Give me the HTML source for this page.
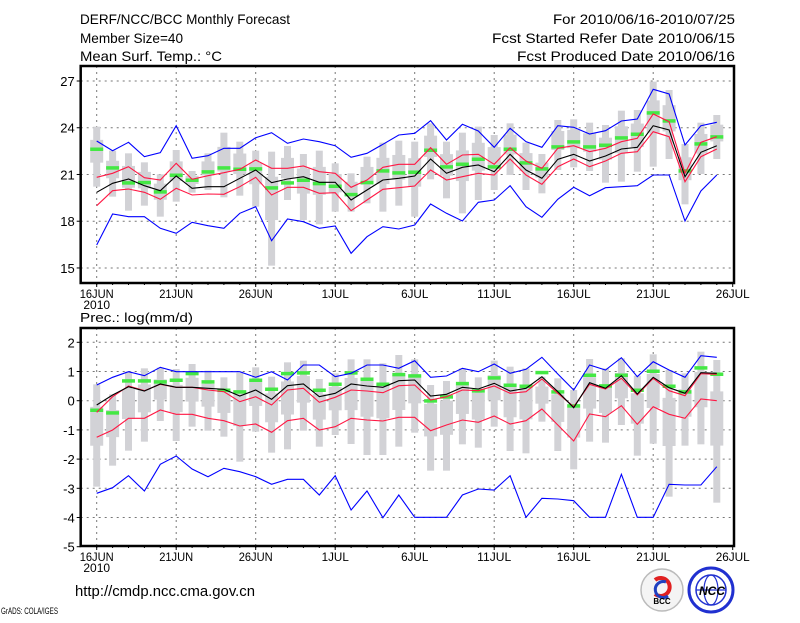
<!DOCTYPE html>
<html><head><meta charset="utf-8"><style>
html,body{margin:0;padding:0;background:#fff;}
svg text{font-family:"Liberation Sans",sans-serif;fill:#000;}
</style></head><body>
<svg id="s" width="800" height="618" xmlns="http://www.w3.org/2000/svg">
<text x="80" y="24" font-size="14" textLength="210" lengthAdjust="spacingAndGlyphs">DERF/NCC/BCC Monthly Forecast</text>
<text x="80" y="43" font-size="14" textLength="103" lengthAdjust="spacingAndGlyphs">Member Size=40</text>
<text x="80" y="61" font-size="14" textLength="142" lengthAdjust="spacingAndGlyphs">Mean Surf. Temp.: °C</text>
<text x="735" y="24" font-size="14" text-anchor="end" textLength="182" lengthAdjust="spacingAndGlyphs">For 2010/06/16-2010/07/25</text>
<text x="735" y="43" font-size="14" text-anchor="end" textLength="243" lengthAdjust="spacingAndGlyphs">Fcst Started Refer Date 2010/06/15</text>
<text x="735" y="61" font-size="14" text-anchor="end" textLength="218" lengthAdjust="spacingAndGlyphs">Fcst Produced Date 2010/06/16</text>
<text x="80" y="322" font-size="13" textLength="113" lengthAdjust="spacingAndGlyphs">Prec.: log(mm/d)</text>
<text x="75" y="596" font-size="15" textLength="180" lengthAdjust="spacingAndGlyphs">http://cmdp.ncc.cma.gov.cn</text>
<text x="1" y="614" font-size="9" textLength="57" lengthAdjust="spacingAndGlyphs">GrADS: COLA/IGES</text>
<g>
<circle cx="662" cy="590" r="21" fill="#f4f4f4" stroke="#bbb" stroke-width="1.5"/>
<path d="M655 580 a9 9 0 1 1 0 14" fill="none" stroke="#e02020" stroke-width="4"/>
<path d="M668 596 a8 8 0 1 1 -2 -14" fill="none" stroke="#2040c0" stroke-width="3"/>
<text x="662" y="604" font-size="8" text-anchor="middle" font-weight="bold" fill="#333">BCC</text>
<circle cx="711" cy="590" r="22" fill="#fff" stroke="#2030d0" stroke-width="3"/>
<circle cx="711" cy="590" r="15" fill="none" stroke="#2030d0" stroke-width="1.5"/>
<ellipse cx="711" cy="590" rx="7" ry="15" fill="none" stroke="#2030d0" stroke-width="1.2"/>
<line x1="696" y1="590" x2="726" y2="590" stroke="#2030d0" stroke-width="1.2"/>
<text x="712" y="595" font-size="12" text-anchor="middle" font-style="italic" font-weight="bold" fill="#2030d0">NCC</text>
</g>
</svg>
<script>
var S=document.getElementById('s'),NS='http://www.w3.org/2000/svg';
function el(t,a,txt){var e=document.createElementNS(NS,t);for(var k in a)e.setAttribute(k,a[k]);if(txt!=null)e.textContent=txt;S.appendChild(e);return e;}
function X(i){return 96.7+15.9*i;}
var dates=['16JUN','21JUN','26JUN','1JUL','6JUL','11JUL','16JUL','21JUL','26JUL'];
function panel(o){
 var L=80.7,R=734,T=o.top,B=o.bot;
 // grid
 o.ylabs.forEach(function(v){var y=o.vy(v);
  if(y>T+1&&y<B-1)el('line',{x1:L,x2:R,y1:y,y2:y,stroke:'#777','stroke-width':1,'stroke-dasharray':'2,4'});
  el('line',{x1:L-4,x2:L,y1:y,y2:y,stroke:'#000','stroke-width':1});
  el('text',{x:L-6,y:y+5,'font-size':13,'text-anchor':'end'},v);});
 for(var k=0;k<9;k++){var x=X(5*k);
  if(k<8)el('line',{x1:x,x2:x,y1:T,y2:B,stroke:'#777','stroke-width':1,'stroke-dasharray':'2,4'});
  el('line',{x1:x,x2:x,y1:B,y2:B+4,stroke:'#000'});
  el('text',{x:x,y:B+15,'font-size':12,'text-anchor':'middle',textLength:dates[k].length*6.8,lengthAdjust:'spacingAndGlyphs'},dates[k]);}
 el('text',{x:X(0),y:B+26,'font-size':12,'text-anchor':'middle'},'2010');
 for(var i=0;i<40;i++)el('line',{x1:X(i),x2:X(i),y1:B,y2:B+2,stroke:'#000'});
 var f=function(z){return o.base+z/3;};
 // bars
 o.gray.forEach(function(g,i){var t=f(g[0]),b=f(g[1]),r=b-t,x=X(i);
  el('rect',{x:x-3.5,y:t,width:7,height:r,fill:'#d2d2d6'});
  el('rect',{x:x-6.5,y:t+0.22*r,width:13,height:0.38*r,fill:'#d2d2d6'});});
 o.green.forEach(function(g,i){el('rect',{x:X(i)-6.5,y:f(g)-1.5,width:13,height:3.5,fill:'#44e844'});});
 [[o.lb,'#0000ff'],[o.ub,'#0000ff'],[o.lr,'#ff1844'],[o.ur,'#ff1844'],[o.bk,'#000']].forEach(function(s){
  el('polyline',{points:s[0].map(function(v,i){return X(i).toFixed(1)+','+f(v).toFixed(1);}).join(' '),fill:'none',stroke:s[1],'stroke-width':1.1});});
 el('rect',{x:L,y:T,width:R-L,height:B-T,fill:'none',stroke:'#000','stroke-width':2.5});
}
panel({top:66,bot:283,base:60,vy:function(v){return 81+(27-v)*15.58;},ylabs:[27,24,21,18,15],
ub:[243,272,247,290,278,197,295,287,265,265,233,218,250,237,245,257,292,280,253,225,220,182,240,193,213,262,205,245,262,197,202,222,212,183,177,88,102,255,197,187],
ur:[352,340,320,353,360,310,358,347,338,328,300,325,325,318,335,340,382,360,322,313,313,263,313,285,283,313,263,303,325,265,257,275,265,245,235,162,185,340,247,230],
bk:[397,370,357,377,392,348,385,380,380,355,330,368,357,350,367,367,420,390,360,355,348,297,340,322,315,335,283,330,355,298,283,303,288,267,262,197,210,350,277,257],
lr:[437,392,387,397,418,385,405,402,403,380,352,405,382,382,400,398,452,420,388,383,378,330,360,350,340,345,297,345,373,320,297,320,303,280,275,215,230,365,290,267],
lb:[555,462,470,470,505,520,487,497,505,460,440,542,477,485,505,498,580,530,500,507,495,432,460,483,427,420,377,440,472,418,382,407,383,380,377,345,345,483,393,345],
green:[267,323,368,367,395,345,360,335,323,327,326,383,368,360,370,378,403,367,332,338,336,270,320,312,297,320,267,308,326,260,245,260,255,233,222,158,182,332,251,230],
gray:[[200,380],[272,410],[280,452],[307,437],[343,470],[270,425],[333,398],[280,390],[218,412],[245,407],[272,440],[275,617],[258,420],[282,480],[272,493],[310,455],[340,455],[290,430],[248,455],[242,437],[245,470],[190,358],[245,415],[218,460],[200,420],[225,390],[190,345],[248,390],[282,400],[180,330],[178,322],[188,333],[195,368],[152,365],[150,335],[65,320],[90,297],[252,433],[188,342],[165,297]]});
panel({top:328,bot:546,base:325,vy:function(v){return 342.3+(2-v)*29.2;},ylabs:[2,1,0,-1,-2,-3,-4,-5],
ub:[180,157,140,152,127,140,140,140,140,140,157,140,165,120,120,155,145,120,120,130,107,157,153,130,140,117,145,133,97,147,195,120,135,98,155,110,135,157,92,97],
ur:[262,215,183,197,178,187,187,195,200,230,215,240,195,190,232,217,195,198,203,182,180,225,215,195,197,183,205,200,162,205,245,178,192,160,210,160,197,212,146,148],
bk:[240,210,185,198,177,187,187,190,193,213,195,223,182,177,215,205,177,183,187,167,165,213,208,187,192,175,198,190,155,200,248,173,190,152,207,157,188,205,143,145],
lr:[337,315,280,280,255,268,268,280,287,303,297,322,287,280,315,305,280,285,288,277,277,317,300,285,292,273,297,287,252,300,348,267,275,242,298,245,268,280,222,227],
lb:[505,488,452,498,418,393,432,455,430,440,455,478,463,463,510,452,555,498,578,510,577,577,577,510,492,495,452,577,520,522,527,577,577,448,577,577,478,480,480,425],
green:[255,263,167,167,170,165,145,170,195,200,165,192,145,143,195,177,143,162,177,148,152,227,215,175,197,158,180,183,142,200,242,150,182,150,195,138,183,200,128,147],
gray:[[178,485],[208,422],[140,377],[130,350],[128,288],[132,348],[117,305],[137,317],[157,335],[143,410],[127,320],[155,383],[112,373],[107,317],[162,365],[145,330],[103,357],[103,390],[115,390],[90,365],[103,323],[180,437],[168,437],[130,358],[157,368],[107,305],[125,378],[130,385],[155,290],[160,378],[195,433],[102,350],[130,353],[100,300],[152,392],[88,356],[135,515],[145,362],[80,358],[105,533]]});
</script>
</body></html>
